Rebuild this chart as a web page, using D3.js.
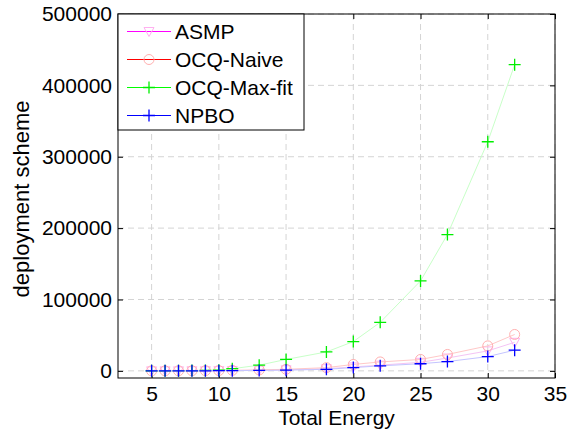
<!DOCTYPE html>
<html>
<head>
<meta charset="utf-8">
<script src="https://cdn.jsdelivr.net/npm/d3@7"></script>
<style>
	body { margin: 0; background: #fff; }
	svg { display: block; font-family: "Liberation Sans", Arial, sans-serif; }
	.tick text { font-size: 21px; fill: #000; }
</style>
</head>
<body>
<svg></svg>
<script>
const width = 580;
const height = 432;
const margin = { top: 14, right: 25, bottom: 54, left: 118 };
const innerWidth = width - margin.left - margin.right;
const innerHeight = height - margin.top - margin.bottom;

// data
const energy = [5, 6, 7, 8, 9, 10, 11, 13, 15, 18, 20, 22, 25, 27, 30, 32];
const asmp = [20, 40, 70, 120, 200, 320, 500, 900, 1500, 3000, 5500, 8000, 12000, 18000, 28000, 40000];
const ocqNaive = [30, 60, 100, 170, 280, 450, 700, 1300, 2200, 4500, 9000, 12500, 16000, 23000, 35000, 51000];
const ocqMaxFit = [50, 100, 200, 350, 600, 1000, 3000, 8000, 16000, 26500, 41000, 68000, 126000, 191000, 321000, 429000];
const npbo = [10, 20, 40, 70, 120, 200, 300, 600, 1000, 2200, 4600, 7000, 10000, 13000, 20000, 29000];

const xTicks = [5, 10, 15, 20, 25, 30, 35];
const yTicks = [0, 100000, 200000, 300000, 400000, 500000];

const series = [
	{ name: 'ASMP', values: asmp, line: '#f4c4f4', legendLine: '#ff00ff', marker: 'tri', markerColor: '#ffb0f0' },
	{ name: 'OCQ-Naive', values: ocqNaive, line: '#ffc8c8', legendLine: '#ff0000', marker: 'circle', markerColor: '#ffb0b0' },
	{ name: 'OCQ-Max-fit', values: ocqMaxFit, line: '#c8ffc8', legendLine: '#00ff00', marker: 'plus', markerColor: '#00ee00' },
	{ name: 'NPBO', values: npbo, line: '#c4c4ff', legendLine: '#0000ff', marker: 'plus', markerColor: '#0000ff' }
];

const svg = d3.select('svg')
	.attr('width', width)
	.attr('height', height);

const xScale = d3.scaleLinear().domain([2.5, 35]).range([0, innerWidth]);
const yScale = d3.scaleLinear().domain([-10000, 500000]).range([innerHeight, 0]);

const g = svg.append('g')
	.attr('transform', `translate(${margin.left}, ${margin.top})`);

// dashed grid
g.append('g').selectAll('line').data(xTicks)
	.enter().append('line')
	.attr('x1', d => xScale(d)).attr('x2', d => xScale(d))
	.attr('y1', 0).attr('y2', innerHeight)
	.attr('stroke', '#d4d4d4').attr('stroke-dasharray', '6,4');
g.append('g').selectAll('line').data(yTicks)
	.enter().append('line')
	.attr('x1', 0).attr('x2', innerWidth)
	.attr('y1', d => yScale(d)).attr('y2', d => yScale(d))
	.attr('stroke', '#d4d4d4').attr('stroke-dasharray', '6,4');

// axes with inward ticks
const xAxisG = g.append('g')
	.attr('transform', `translate(0, ${innerHeight})`)
	.call(d3.axisBottom(xScale).tickValues(xTicks).tickSize(-5).tickPadding(8));
const yAxisG = g.append('g')
	.call(d3.axisLeft(yScale).tickValues(yTicks).tickSize(-5).tickPadding(6).tickFormat(d3.format('d')));
// box ticks on right and top, no labels
const rightG = g.append('g')
	.call(d3.axisRight(yScale).tickValues(yTicks).tickSize(-5))
	.attr('transform', `translate(${innerWidth}, 0)`);
const topG = g.append('g')
	.call(d3.axisTop(xScale).tickValues(xTicks).tickSize(-5));
rightG.selectAll('text').remove();
topG.selectAll('text').remove();
g.selectAll('.domain').remove();
g.selectAll('.tick line').attr('stroke', '#000');
xAxisG.selectAll('.tick text').attr('dy', '0.71em');

g.append('rect')
	.attr('width', innerWidth).attr('height', innerHeight)
	.attr('fill', 'none').attr('stroke', '#000');

// lines and markers
const line = d3.line()
	.x((d, i) => xScale(energy[i]))
	.y(d => yScale(d));

const drawMarker = (sel, type, color) => {
	if (type === 'tri') {
		sel.append('path').attr('d', 'M-5,-4L5,-4L0,5Z')
			.attr('fill', 'none').attr('stroke', color);
	} else if (type === 'circle') {
		sel.append('circle').attr('r', 5)
			.attr('fill', 'none').attr('stroke', color);
	} else {
		sel.append('path').attr('d', 'M-6,0H6M0,-6V6')
			.attr('stroke', color).attr('stroke-width', 1.3);
	}
};

series.forEach(s => {
	g.append('path')
		.attr('d', line(s.values))
		.attr('fill', 'none')
		.attr('stroke', s.line)
		.attr('stroke-width', 1);
	g.append('g').selectAll('g').data(s.values)
		.enter().append('g')
		.attr('transform', (d, i) => `translate(${xScale(energy[i])}, ${yScale(d)})`)
		.each(function () { drawMarker(d3.select(this), s.marker, s.markerColor); });
});

// legend
const legend = g.append('g');
legend.append('rect')
	.attr('x', 0).attr('y', 0).attr('width', 186).attr('height', 116)
	.attr('fill', '#fff').attr('stroke', '#000');
series.forEach((s, i) => {
	const y = 17.5 + i * 28;
	const row = legend.append('g').attr('transform', `translate(0, ${y})`);
	row.append('line').attr('x1', 9).attr('x2', 53).attr('y1', 0).attr('y2', 0)
		.attr('stroke', s.legendLine);
	const m = row.append('g').attr('transform', 'translate(31, 0)');
	drawMarker(m, s.marker, s.markerColor);
	row.append('text').attr('x', 57).attr('y', 7.5)
		.attr('font-size', '21px').text(s.name);
});

// labels
svg.append('text')
	.attr('x', margin.left + innerWidth / 2).attr('y', 425)
	.attr('text-anchor', 'middle').attr('font-size', '21px')
	.text('Total Energy');
svg.append('text')
	.attr('transform', 'translate(29, 199) rotate(-90)')
	.attr('text-anchor', 'middle').attr('font-size', '22px')
	.text('deployment scheme');
</script>
</body>
</html>
